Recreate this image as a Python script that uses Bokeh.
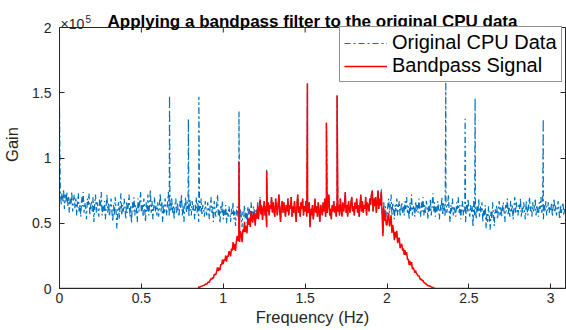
import math
from bokeh.plotting import figure
from bokeh.models import LinearAxis, FixedTicker, CustomJSTickFormatter, Label, Range1d, Span
from bokeh.embed import file_html
from bokeh.resources import INLINE

# ---------------- data (values in thousands) ----------------
step = 0.005
blue_k = [
    70, 75, 64, 73, 67, 76, 61, 72, 66, 74, 63, 70, 58, 69, 64, 74, 59, 67, 72, 61,
    69, 56, 66, 73, 59, 64, 55, 70, 63, 74, 58, 66, 61, 53, 69, 64, 73, 56, 63, 67,
    59, 70, 51, 64, 72, 58, 66, 61, 55, 69, 63, 74, 56, 64, 59, 67, 53, 63, 72, 58,
    66, 55, 63, 69, 59, 51, 64, 56, 70, 61, 46, 58, 66, 53, 63, 73, 56, 64, 59, 69,
    61, 53, 67, 58, 64, 72, 55, 63, 50, 66, 59, 70, 56, 64, 61, 51, 69, 59, 66, 74,
    58, 64, 55, 69, 61, 51, 66, 59, 72, 56, 63, 76, 58, 67, 53, 61, 70, 59, 64, 56,
    66, 55, 63, 73, 59, 67, 51, 64, 58, 69, 61, 56, 66, 74, 55, 63, 59, 70, 58, 64,
    53, 63, 69, 58, 66, 59, 55, 67, 61, 72, 56, 64, 51, 63, 70, 58, 66, 61, 55, 69,
    63, 56, 67, 59, 64, 53, 61, 70, 58, 66, 51, 63, 59, 69, 56, 64, 61, 55, 67, 59,
    56, 66, 61, 53, 64, 70, 58, 63, 51, 67, 59, 55, 64, 72, 56, 61, 50, 63, 58, 67,
    53, 61, 56, 64, 50, 59, 55, 63, 58, 51, 61, 56, 66, 53, 59, 48, 58, 63, 55, 59,
    51, 61, 56, 47, 59, 55, 64, 53, 58, 50, 63, 56, 61, 53, 66, 58, 55, 63, 59, 51,
    61, 56, 66, 55, 63, 70, 58, 64, 53, 61, 67, 56, 63, 47, 59, 66, 56, 64, 61, 70,
    58, 66, 59, 55, 69, 63, 56, 64, 72, 59, 51, 63, 67, 58, 66, 61, 55, 64, 59, 69,
    56, 64, 61, 70, 55, 63, 58, 67, 59, 51, 64, 72, 58, 63, 55, 66, 61, 69, 56, 63,
    59, 67, 55, 63, 58, 66, 47, 61, 56, 64, 53, 59, 69, 58, 63, 55, 66, 59, 51, 64,
    61, 56, 66, 59, 69, 55, 63, 58, 64, 72, 56, 61, 53, 64, 59, 67, 58, 63, 55, 66,
    59, 64, 56, 69, 61, 55, 66, 59, 63, 74, 58, 64, 55, 67, 61, 58, 66, 70, 59, 63,
    56, 66, 61, 69, 58, 64, 55, 63, 72, 59, 67, 58, 64, 61, 70, 56, 66, 63, 59, 69,
    64, 72, 75, 59, 69, 63, 70, 58, 66, 75, 61, 69, 64, 76, 59, 42, 66, 56, 63, 55,
    55, 64, 69, 58, 63, 72, 56, 66, 61, 53, 64, 59, 69, 56, 63, 67, 55, 61, 66, 58,
    64, 56, 67, 61, 70, 58, 63, 53, 66, 59, 72, 56, 64, 61, 55, 67, 59, 64, 58, 69,
    61, 55, 66, 59, 70, 56, 64, 58, 67, 63, 53, 64, 59, 69, 56, 63, 73, 59, 66, 55,
    63, 58, 67, 61, 53, 64, 59, 70, 56, 66, 61, 55, 67, 58, 63, 72, 59, 51, 64, 59,
    69, 56, 63, 59, 55, 66, 61, 70, 58, 64, 53, 61, 67, 56, 63, 59, 51, 64, 58, 69,
    59, 55, 64, 58, 63, 47, 67, 56, 61, 53, 64, 59, 69, 55, 63, 58, 66, 51, 61, 56,
    64, 46, 58, 51, 63, 55, 45, 59, 53, 66, 56, 48, 61, 58, 64, 53, 59, 67, 56, 63,
    55, 61, 66, 58, 51, 64, 59, 69, 56, 63, 55, 67, 59, 64, 53, 61, 70, 58, 66, 59,
    56, 64, 61, 69, 55, 63, 58, 66, 59, 53, 67, 61, 56, 64, 70, 59, 63, 55, 66, 58,
    63, 69, 56, 64, 59, 55, 66, 61, 70, 58, 63, 53, 64, 59, 67, 56, 61, 66, 58, 63,
    59, 66, 55, 63, 69, 58, 64, 56, 61, 67, 59, 53, 64, 58, 63, 66, 56, 61,
]
red_k = [0] * 170 + [
    0.5, 0.9, 1.2, 1.7, 1.7, 2.2, 2.4, 2.5, 3.4, 3.2,
    3.4, 4.6, 4.9, 4.8, 6.4, 7.7, 7.0, 8.5, 7.7, 11.1,
    10.6, 10.7, 13.4, 16.2, 13.4, 15.9, 14.0, 18.6, 18.0, 22.1,
    18.6, 22.3, 21.3, 25.3, 20.5, 25.1, 24.2, 28.7, 27.3, 24.7,
    30.5, 29.1, 35.6, 29.7, 34.2, 28.8, 36.0, 40.3, 36.3, 40.1,
    35.7, 43.9, 41.4, 35.5, 45.4, 43.2, 51.2, 43.2, 48.1, 42.3,
    54.2, 48.7, 53.7, 47.2, 59.4, 52.8, 50.6, 58.6, 55.5, 48.2,
    58.0, 53.5, 63.4, 53.1, 61.1, 68.3, 56.8, 63.0, 52.5, 60.7,
    67, 56, 63, 47, 59, 66, 56, 64, 61, 70,
    58, 66, 59, 55, 69, 63, 56, 64, 72, 59, 51, 63, 67, 58, 66, 61, 55, 64, 59, 69,
    56, 64, 61, 70, 55, 63, 58, 67, 59, 51, 64, 72, 58, 63, 55, 66, 61, 69, 56, 63,
    59, 67, 55, 63, 58, 66, 47, 61, 56, 64, 53, 59, 69, 58, 63, 55, 66, 59, 51, 64,
    61, 56, 66, 59, 69, 55, 63, 58, 64, 72, 56, 61, 53, 64, 59, 67, 58, 63, 55, 66,
    59, 64, 56, 69, 61, 55, 66, 59, 63, 74, 58, 64, 55, 67, 61, 58, 66, 70, 59, 63,
    56, 66, 61, 69, 58, 64, 55, 63, 72, 59, 67, 58, 64, 61, 70, 56, 66, 63, 59, 69,
    64, 72, 75, 59, 69, 63, 70, 58, 66, 75,
    61, 68.7, 63.4, 74.5, 57.2, 40.1, 62.0, 51.8, 57.3, 49.2,
    48.4, 55.0, 58.0, 47.6, 50.4, 56.2, 42.6, 48.8, 43.9, 37.1,
    43.5, 38.9, 44.2, 34.7, 37.8, 38.9, 30.8, 32.9, 34.3, 29.0,
    30.7, 25.8, 29.5, 25.6, 28.0, 22.0, 22.7, 18.0, 21.1, 17.7,
    20.2, 14.8, 16.0, 14.3, 12.1, 13.7, 11.2, 11.2, 9.3, 10.0,
    7.9, 6.6, 7.3, 5.9, 6.3, 4.5, 4.5, 3.5, 3.4, 2.8,
    2.1, 2.2, 1.8, 1.7, 1.1, 0.9, 0.7, 0.4, 0.3, 0.1,
] + [0] * 158

spike_x = [0.0, 0.672, 0.787, 0.851, 1.096, 1.265, 1.514, 1.630, 1.695, 2.359, 2.477, 2.538, 2.954]
spike_blue_k = [140, 148, 130, 147, 136, 91, 157, 127, 148, 160, 130, 146, 130]
spike_red_x = [0.851, 1.096, 1.265, 1.514, 1.630, 1.695]
spike_red_k = [1.5, 97, 90, 157, 127, 148]

x_ticks = [0, 0.5, 1, 1.5, 2, 2.5, 3]
y_ticks = [0, 50000, 100000, 150000, 200000]

title = "Applying a bandpass filter to the original CPU data"
x_label = "Frequency (Hz)"
y_label = "Gain"
exp_base = "×10"
exp_power = "5"
legend_labels = ["Original CPU Data", "Bandpass Signal"]


def merge(xs, ys, sx, sy):
    pts = sorted(list(zip(xs, ys)) + list(zip(sx, sy)), key=lambda t: t[0])
    return [a for a, _ in pts], [b * 1000 for _, b in pts]


grid_x = [round(i * step, 3) for i in range(len(blue_k))]
bx, by = merge(grid_x, blue_k, spike_x, spike_blue_k)
rx, ry = merge(grid_x, red_k, spike_red_x, spike_red_k)

FONT = "Liberation Sans"
AX = "#262626"
X_END = 3.09
Y_TOP = y_ticks[-1]
Y_CANVAS = 220700  # frame extends to the canvas top so text above the box is drawable

p = figure(width=566, height=330, output_backend="svg", toolbar_location=None,
           x_range=Range1d(0, X_END), y_range=Range1d(0, Y_CANVAS),
           x_axis_label=x_label, y_axis_label=y_label, title_location=None,
           min_border_left=59, min_border_right=1, min_border_top=0, min_border_bottom=42)
p.background_fill_color = "white"
p.border_fill_color = "white"
p.outline_line_color = None
p.xgrid.visible = False
p.ygrid.visible = False


def style(ax, ticks, labels=True):
    ax.ticker = FixedTicker(ticks=ticks)
    ax.axis_line_color = AX
    ax.axis_line_width = 1
    ax.major_tick_line_color = AX
    ax.major_tick_in = 5
    ax.major_tick_out = 0
    ax.minor_tick_in = 0
    ax.minor_tick_out = 0
    ax.major_label_text_font = FONT
    ax.major_label_text_color = AX
    ax.axis_label_text_font = FONT
    ax.axis_label_text_color = AX
    ax.axis_label_text_font_style = "normal"
    ax.axis_label_text_font_size = "16.5px"
    if labels:
        ax.major_label_text_font_size = "14px"
    else:
        ax.major_label_text_font_size = "0px"
        ax.major_label_standoff = 0


xa = p.xaxis[0]
ya = p.yaxis[0]
style(xa, x_ticks)
style(ya, y_ticks)
ya.bounds = (0, Y_TOP)
xa.formatter = CustomJSTickFormatter(code="return tick.toString();")
ya.formatter = CustomJSTickFormatter(code="return (tick/1e5).toString();")
xa.major_label_standoff = 4
xa.axis_label_standoff = 2
ya.major_label_standoff = 8
ya.axis_label_standoff = 8

right = LinearAxis()
style(right, y_ticks, labels=False)
right.bounds = (0, Y_TOP)
right.formatter = CustomJSTickFormatter(code="return '';")
p.add_layout(right, "right")

# top edge of the box and its inward ticks
p.add_layout(Span(location=Y_TOP, dimension="width", line_color=AX, line_width=1))
p.ray(x=x_ticks, y=[Y_TOP] * len(x_ticks), length=5, length_units="screen",
      angle=-math.pi / 2, line_color=AX, line_width=1)

p.line(bx, by, line_color="#0072BD", line_width=1.2, line_dash="6 3 2 3",
       legend_label=legend_labels[0])
p.line(rx, ry, line_color="#FF0000", line_width=1.5, legend_label=legend_labels[1])

p.add_layout(Label(x=X_END / 2, y=Y_TOP, y_offset=6, text=title,
                   text_font=FONT, text_font_size="17px", text_font_style="bold",
                   text_color="black", text_align="center", text_baseline="alphabetic"))
p.add_layout(Label(x=0, y=Y_TOP, x_offset=1, y_offset=4, text=exp_base,
                   text_font=FONT, text_font_size="14px", text_color=AX,
                   text_align="left", text_baseline="alphabetic"))
p.add_layout(Label(x=0, y=Y_TOP, x_offset=26, y_offset=9, text=exp_power,
                   text_font=FONT, text_font_size="10px", text_color=AX,
                   text_align="left", text_baseline="alphabetic"))

lg = p.legend[0]
lg.location = (280, 206)
lg.margin = 0
lg.padding = 4
lg.spacing = 0
lg.border_line_color = AX
lg.border_line_width = 1
lg.background_fill_color = "white"
lg.background_fill_alpha = 1
lg.label_text_font = FONT
lg.label_text_font_size = "20px"
lg.label_text_color = "black"
lg.glyph_width = 43
lg.label_standoff = 5

open("out.html", "w").write(file_html(p, INLINE))
